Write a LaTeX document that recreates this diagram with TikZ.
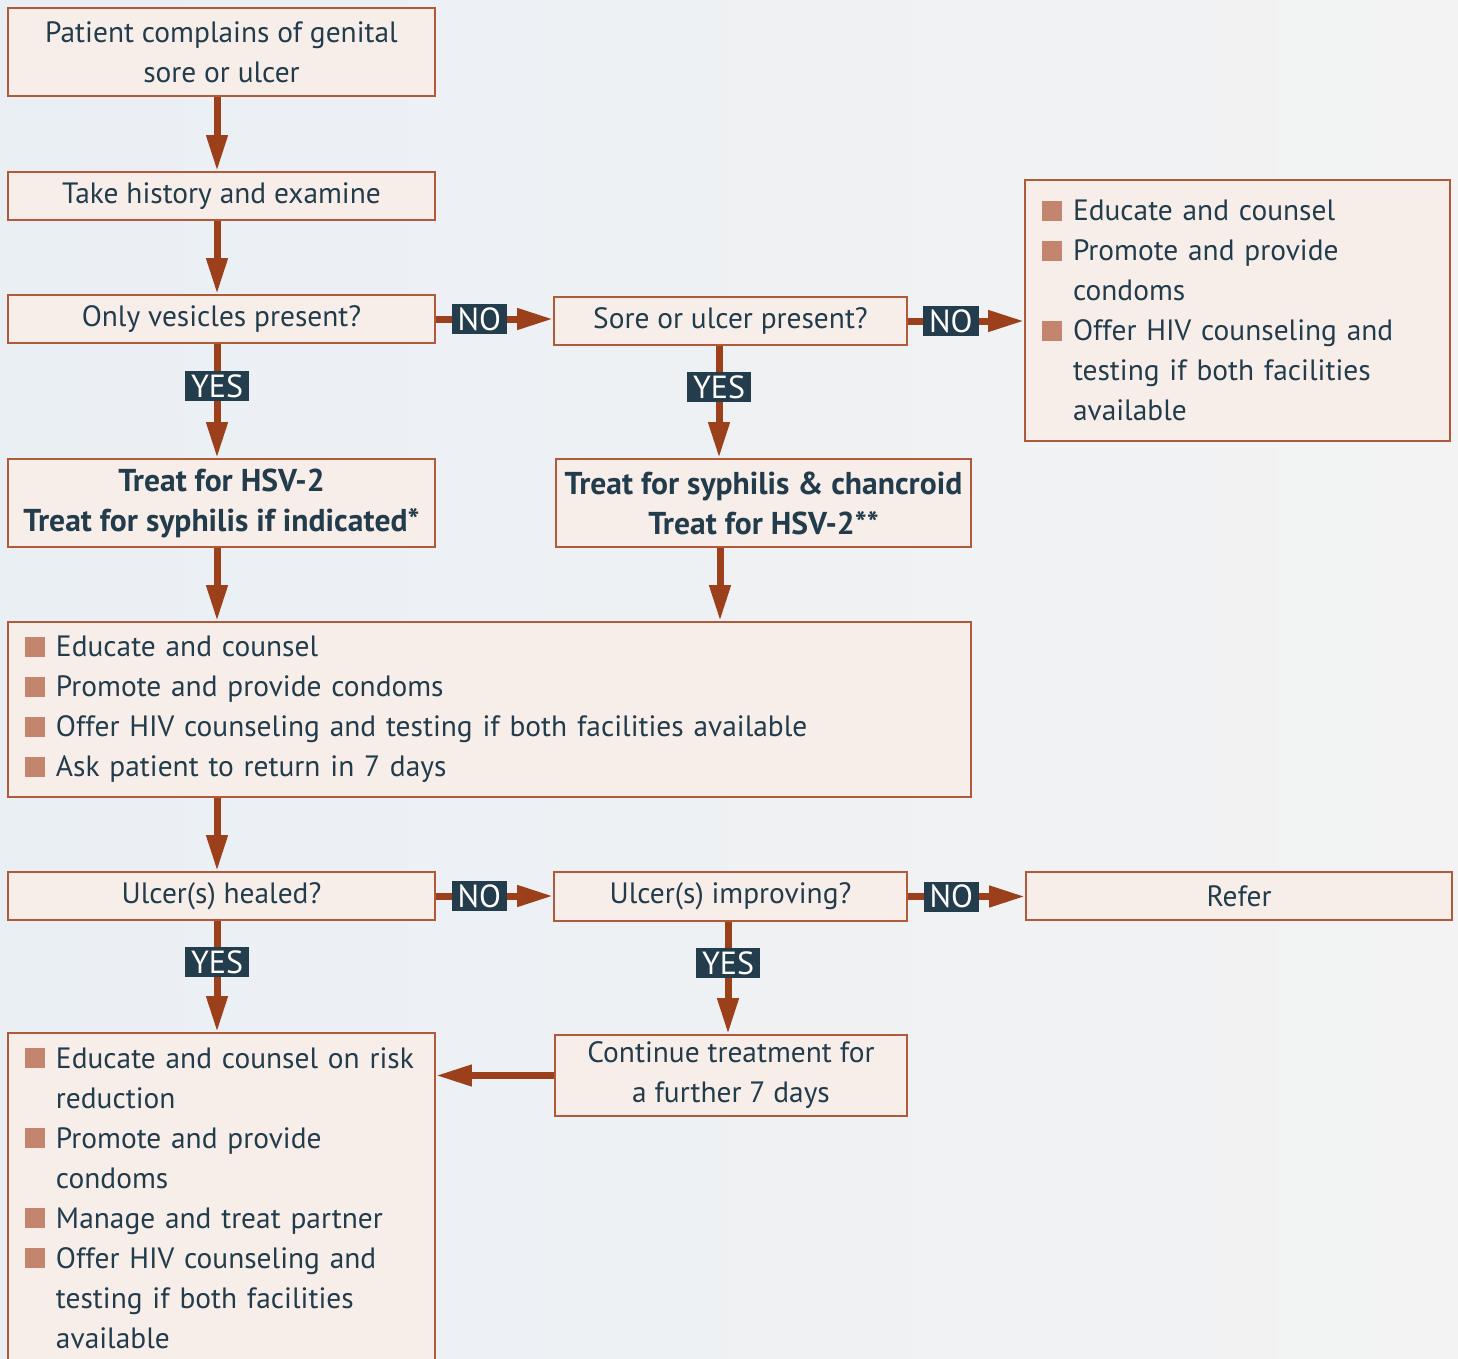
\documentclass[tikz,border=0pt]{standalone}
\usepackage{fontspec}
\setmainfont{PT Sans}
\usetikzlibrary{arrows.meta}
\definecolor{ink}{HTML}{223C4C}
\definecolor{edge}{HTML}{B05A3C}
\definecolor{paper}{HTML}{F7EEEA}
\definecolor{rust}{HTML}{9C3F1B}
\definecolor{navy}{HTML}{233D4D}
\definecolor{bulc}{HTML}{C4856E}
\definecolor{bgl}{HTML}{EAEFF4}
\definecolor{bgr}{HTML}{F3F3F3}
\newcommand{\bul}{\textcolor{bulc}{\rule{10pt}{10pt}}\hspace{5.5pt}}
\newcommand{\itm}[1]{\mbox{\bul #1}}
\newcommand{\cnt}[1]{\mbox{\hspace*{15.5pt}#1}}
\begin{document}
\begin{tikzpicture}[x=0.5pt,y=-0.5pt,
    every node/.style={font=\fontsize{14.7}{20}\selectfont},
    box/.style={draw=edge,fill=paper,line width=0.8pt,text=ink,inner sep=0pt,align=center},
    bold/.style={box,font=\fontsize{15.8}{20}\selectfont\bfseries},
    list/.style={box,align=left,inner xsep=8.5pt},
    arr/.style={draw=rust,line width=3.5pt,-{Triangle[length=18pt,width=10pt]}},
    tag/.style={fill=navy,text=white,inner xsep=3pt,inner ysep=0pt,minimum height=15pt,
      font=\fontsize{16}{20}\selectfont}]
  \useasboundingbox (0,0) rectangle (1458,1359);
  \clip (0,0) rectangle (1458,1359);
  \shade[left color=bgl,right color=bgr] (0,0) rectangle (1458,1359);
  % left column
  \node[box,minimum width=213.5pt,minimum height=44pt] (B1) at (221.5,52) {Patient complains of genital\\sore or ulcer};
  \node[box,minimum width=213.5pt,minimum height=24pt] (B2) at (221.5,196) {Take history and examine};
  \node[box,minimum width=213.5pt,minimum height=24pt] (B3) at (221.5,319) {Only vesicles present?};
  \node[bold,minimum width=213.5pt,minimum height=44pt] (B6) at (221.5,503) {Treat for HSV-2\\Treat for syphilis if indicated*};
  \node[box,minimum width=213.5pt,minimum height=24pt] (B9) at (221.5,896) {Ulcer(s) healed?};
  \node[list,text width=196.5pt,minimum height=165pt] (B12) at (221.5,1198) {\itm{Educate and counsel on risk}\\\cnt{reduction}\\\itm{Promote and provide}\\\cnt{condoms}\\\itm{Manage and treat partner}\\\itm{Offer HIV counseling and}\\\cnt{testing if both facilities}\\\cnt{available}};
  % middle column
  \node[box,minimum width=176.5pt,minimum height=24pt] (B4) at (730.5,321) {Sore or ulcer present?};
  \node[bold,minimum width=207.5pt,minimum height=44pt] (B7) at (763.5,503) {Treat for syphilis \& chancroid\\Treat for HSV-2**};
  \node[list,text width=464.5pt,minimum height=87.5pt] (B8) at (489.5,709.5) {\itm{Educate and counsel}\\\itm{Promote and provide condoms}\\\itm{Offer HIV counseling and testing if both facilities available}\\\itm{Ask patient to return in 7 days}};
  \node[box,minimum width=176.5pt,minimum height=24.5pt] (B10) at (730.5,896.5) {Ulcer(s) improving?};
  \node[box,minimum width=176pt,minimum height=40.5pt] (B13) at (731,1075.5) {Continue treatment for\\a further 7 days};
  % right column
  \node[list,text width=195.5pt,minimum height=130.5pt] (B5) at (1237.5,310.5) {\itm{Educate and counsel}\\\itm{Promote and provide}\\\cnt{condoms}\\\itm{Offer HIV counseling and}\\\cnt{testing if both facilities}\\\cnt{available}};
  \node[box,minimum width=213pt,minimum height=24pt] (B11) at (1239,896) {Refer};
  % arrows
  \coordinate (c1) at (217,0);
  \coordinate (c2) at (719,0);
  \coordinate (c3) at (720,0);
  \coordinate (c4) at (728,0);
  \foreach \a/\b/\c in {B1/B2/c1, B2/B3/c1, B6/B8/c1, B8/B9/c1, B7/B8/c3}{
    \draw[arr] (\a.south -| \c) -- (\b.north -| \c);
  }
  \foreach \a/\b/\c in {B3/B6/c1, B4/B7/c2, B9/B12/c1, B10/B13/c4}{
    \draw[arr] (\a.south -| \c) -- node[tag,pos=0.37]{YES} (\b.north -| \c);
  }
  \foreach \a/\b in {B3/B4, B4/B5, B9/B10, B10/B11}{
    \draw[arr] (\a.east) -- node[tag,pos=0.37]{NO} (\a.east -| \b.west);
  }
  \draw[arr] (B13.west) -- (B13.west -| B12.east);
\end{tikzpicture}
\end{document}
